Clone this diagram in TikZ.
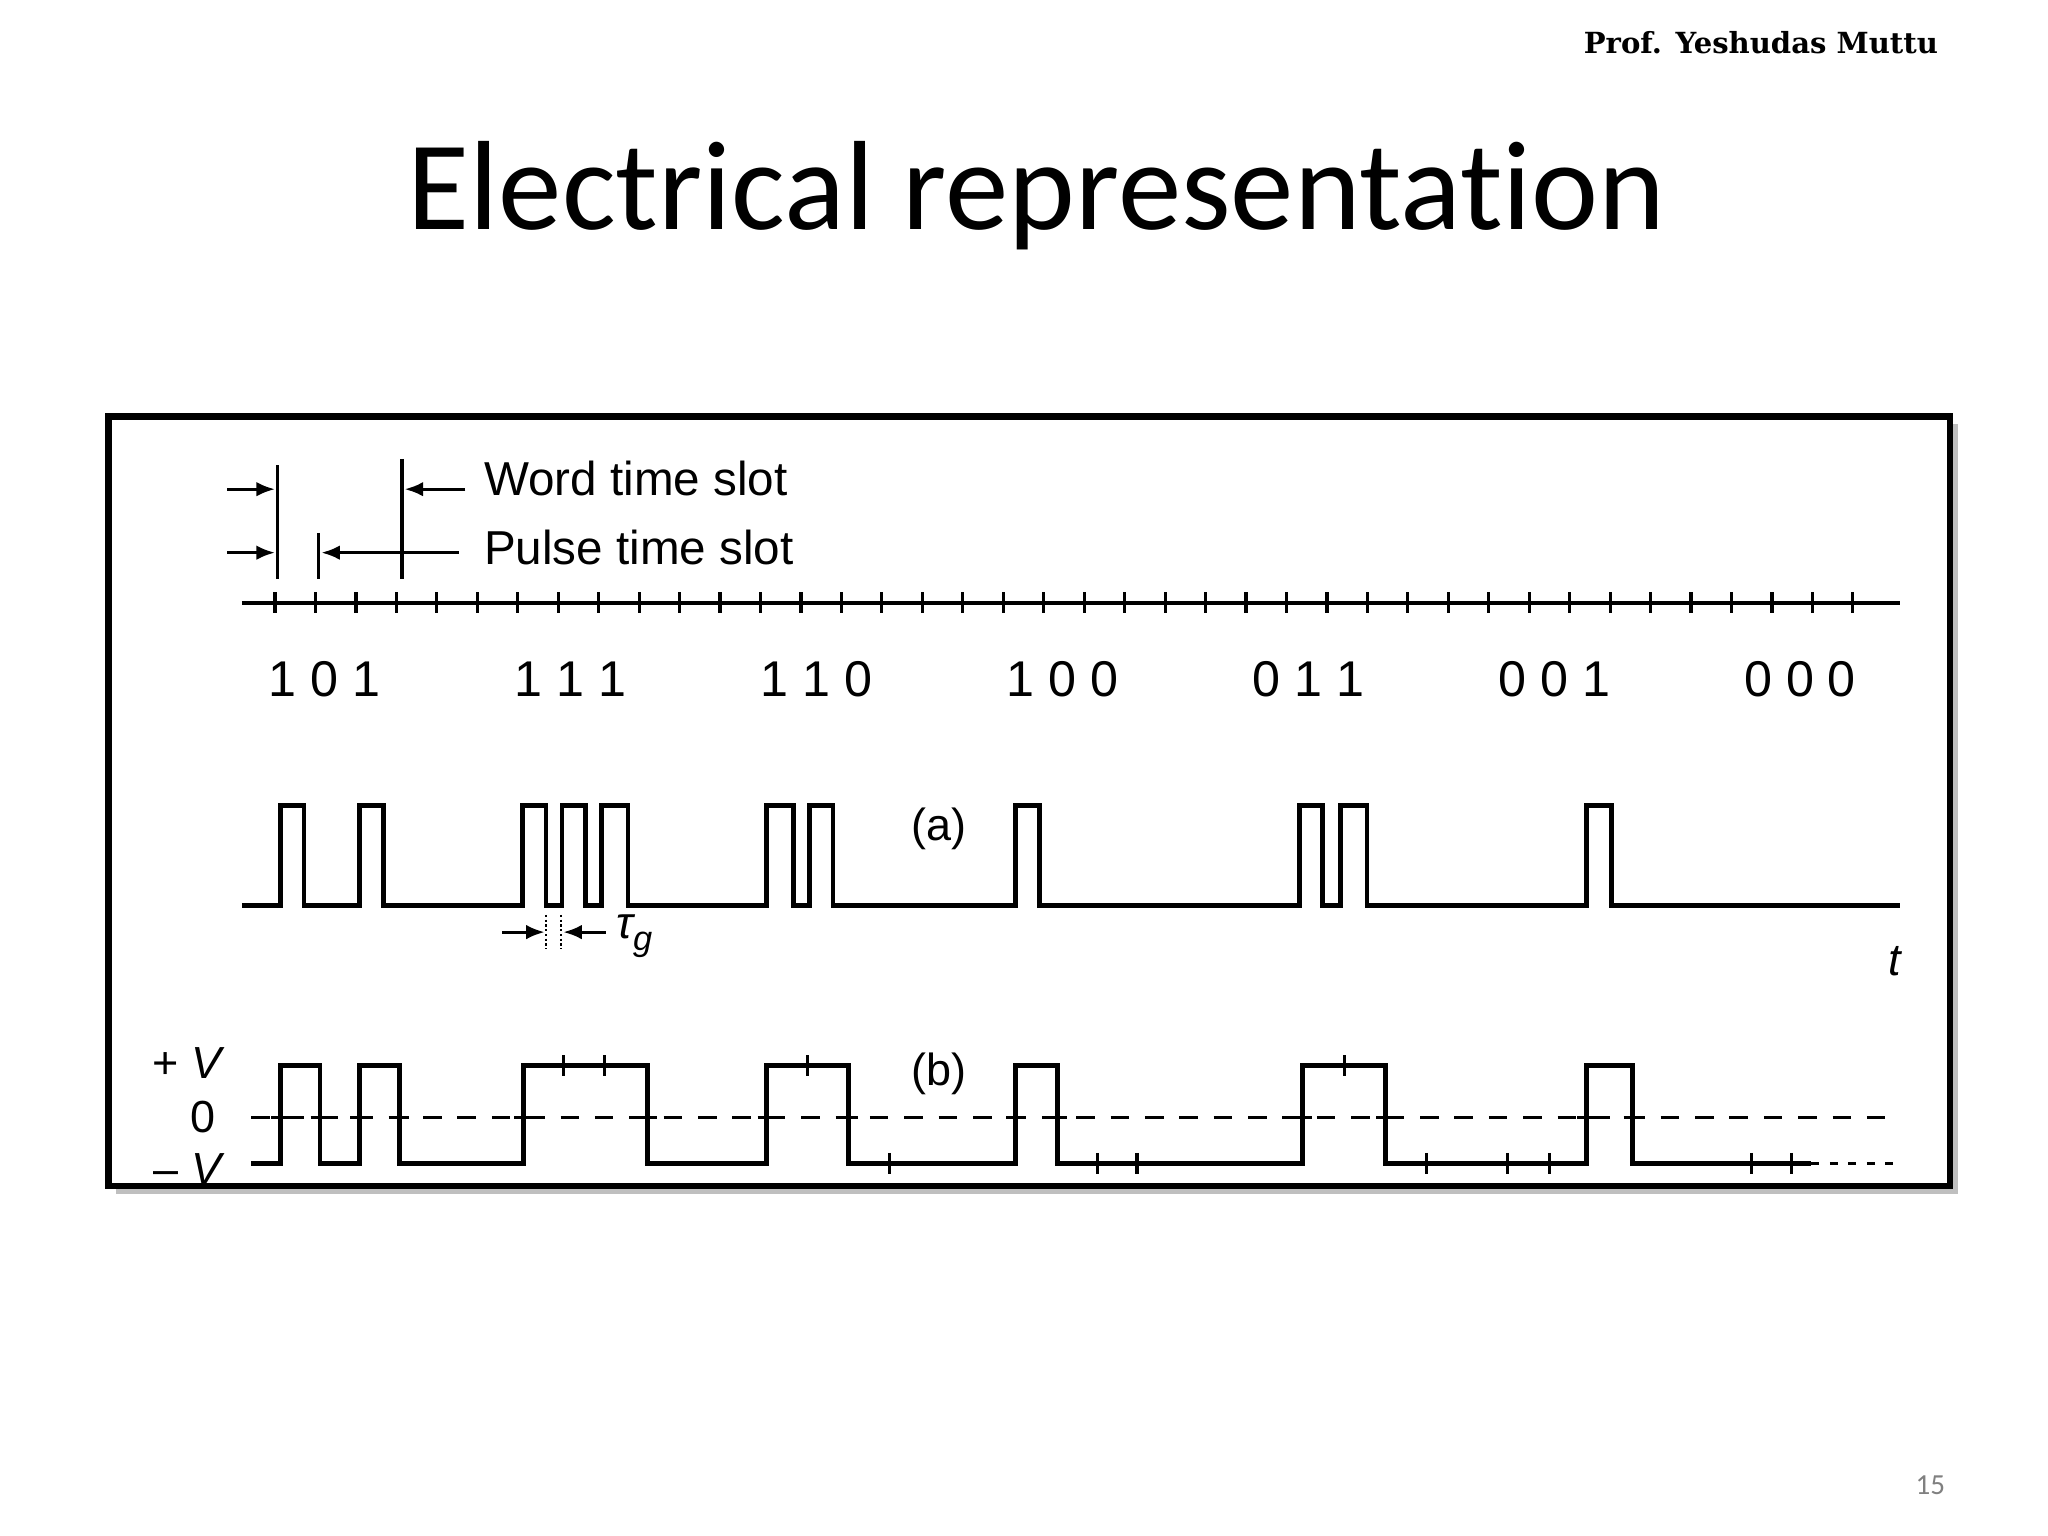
\documentclass[tikz,border=0pt]{standalone}
\usepackage{fontspec}
\setmainfont{Liberation Sans}
\newfontfamily\titlefont[Ligatures=NoCommon]{Carlito}
\newfontfamily\proffont{DejaVu Serif}
\usetikzlibrary{arrows.meta}
\begin{document}
\begin{tikzpicture}[x=1pt,y=-1pt,
  sig/.style={line width=3.6pt,line join=miter},
  lbl/.style={inner sep=0pt,font=\fontsize{36}{40}\selectfont},
  ar/.style={line width=2.4pt,-{Latex[length=14pt,width=11pt]}}]
\useasboundingbox (0,0) rectangle (1549,1161);
\fill[white] (0,0) rectangle (1549,1161);
\node[inner sep=0pt,anchor=east,font=\proffont\bfseries\fontsize{22}{26}\selectfont] (prof) at (1466,32) {Prof. Yeshudas Muttu};
\node[inner sep=0pt,font=\titlefont\fontsize{96}{110}\selectfont] (title) at (784,148) {Electrical representation};
\node[inner sep=0pt,text=gray,font=\titlefont\fontsize{22}{26}\selectfont] (pg) at (1460,1123) {15};
% frame
\fill[black!25] (88,321) rectangle (1481,903);
\draw[line width=5pt,fill=white] (82,315) rectangle (1475,897);
% time axis
\draw[line width=3pt] (183,456) -- (1437,456);
\foreach \i in {0,...,39} \draw[line width=2.4pt] (208+30.6*\i,448) -- (208+30.6*\i,464);
% slot markers
\draw[line width=2.4pt] (210,352) -- (210,438);
\draw[line width=2.4pt] (304,347) -- (304,438);
\draw[line width=2.4pt] (241,403) -- (241,438);
\coordinate (wl) at (172,370); \coordinate (wr) at (208,370);
\coordinate (pl) at (172,418); \coordinate (pr) at (208,418);
\draw[ar] (wl) -- (wr);
\draw[ar] (pl) -- (pr);
\coordinate (wa) at (352,370); \coordinate (wb) at (306,370);
\coordinate (pa) at (347,418); \coordinate (pb) at (243,418);
\draw[ar] (wa) -- (wb);
\draw[ar] (pa) -- (pb);
\node[lbl,anchor=west] (wts) at (366,362) {Word time slot};
\node[lbl,anchor=west] (pts) at (366,414) {Pulse time slot};
% bit labels
\foreach \w [count=\k from 0] in {1 0 1,1 1 1,1 1 0,1 0 0,0 1 1,0 0 1,0 0 0}
  \node[lbl,anchor=west,font=\fontsize{38}{40}\selectfont] (w\k) at (203+186*\k,514) {\w};
% (a) RZ pulses
\draw[sig] (183,685)
  -- (212,685) |- (230,609) |- (272,685) |- (290,609) |- (395,685)
  |- (413,609) |- (425,685) |- (443,609) |- (455,685) |- (475,609) |- (580,685)
  |- (600,609) |- (612,685) |- (630,609) |- (768,685) |- (786,609) |- (983,685)
  |- (1000,609) |- (1014,685) |- (1034,609) |- (1200,685) |- (1219,609) |- (1437,685);
\node[lbl,font=\fontsize{34}{40}\selectfont] (a) at (710,627) {(a)};
\node[lbl,font=\itshape\fontsize{34}{40}\selectfont] (t) at (1433,727) {t};
% tau g
\draw[line width=1.6pt,dotted] (413,692) -- (413,718);
\draw[line width=1.6pt,dotted] (424,692) -- (424,718);
\coordinate (g1) at (380,705); \coordinate (g2) at (412,705);
\coordinate (g3) at (458,705); \coordinate (g4) at (426,705);
\draw[ar] (g1) -- (g2);
\draw[ar] (g3) -- (g4);
\node[lbl,anchor=west,font=\itshape\fontsize{34}{40}\selectfont] (tg) at (466,708) {τ\raisebox{-9pt}{\fontsize{26}{28}\selectfont g}};
% (b) NRZ
\draw[line width=2.6pt,dash pattern=on 14pt off 12pt] (190,845) -- (1437,845);
\draw[sig] (190,880)
  -- (212,880) |- (242,806) |- (272,880) |- (302,806) |- (396,880)
  |- (490,806) |- (580,880) |- (642,806) |- (768,880) |- (800,806) |- (985,880)
  |- (1048,806) |- (1200,880) |- (1235,806) |- (1370,880);
\draw[line width=2.4pt,dash pattern=on 6pt off 8pt] (1370,880) -- (1437,880);
\foreach \x in {426,457,611,1017} \draw[line width=2.4pt] (\x,798) -- (\x,814);
\foreach \x in {673,830,860,1079,1140,1172,1325,1355} \draw[line width=2.4pt] (\x,872) -- (\x,888);
\foreach \x in {212,242,272,302,396,490,580,642,768,800,985,1048,1200,1235} \draw[line width=2.4pt] (\x-7,845) -- (\x+7,845);
\node[lbl,font=\fontsize{34}{40}\selectfont] (b) at (710,812) {(b)};
\node[lbl,anchor=east,font=\fontsize{34}{40}\selectfont] (pv) at (170,804) {+ \textit{V}};
\node[lbl,anchor=east,font=\fontsize{34}{40}\selectfont] (zv) at (163,845) {0};
\node[lbl,anchor=east,font=\fontsize{34}{40}\selectfont] (mv) at (170,884) {\textendash\ \textit{V}};
\end{tikzpicture}
\end{document}
